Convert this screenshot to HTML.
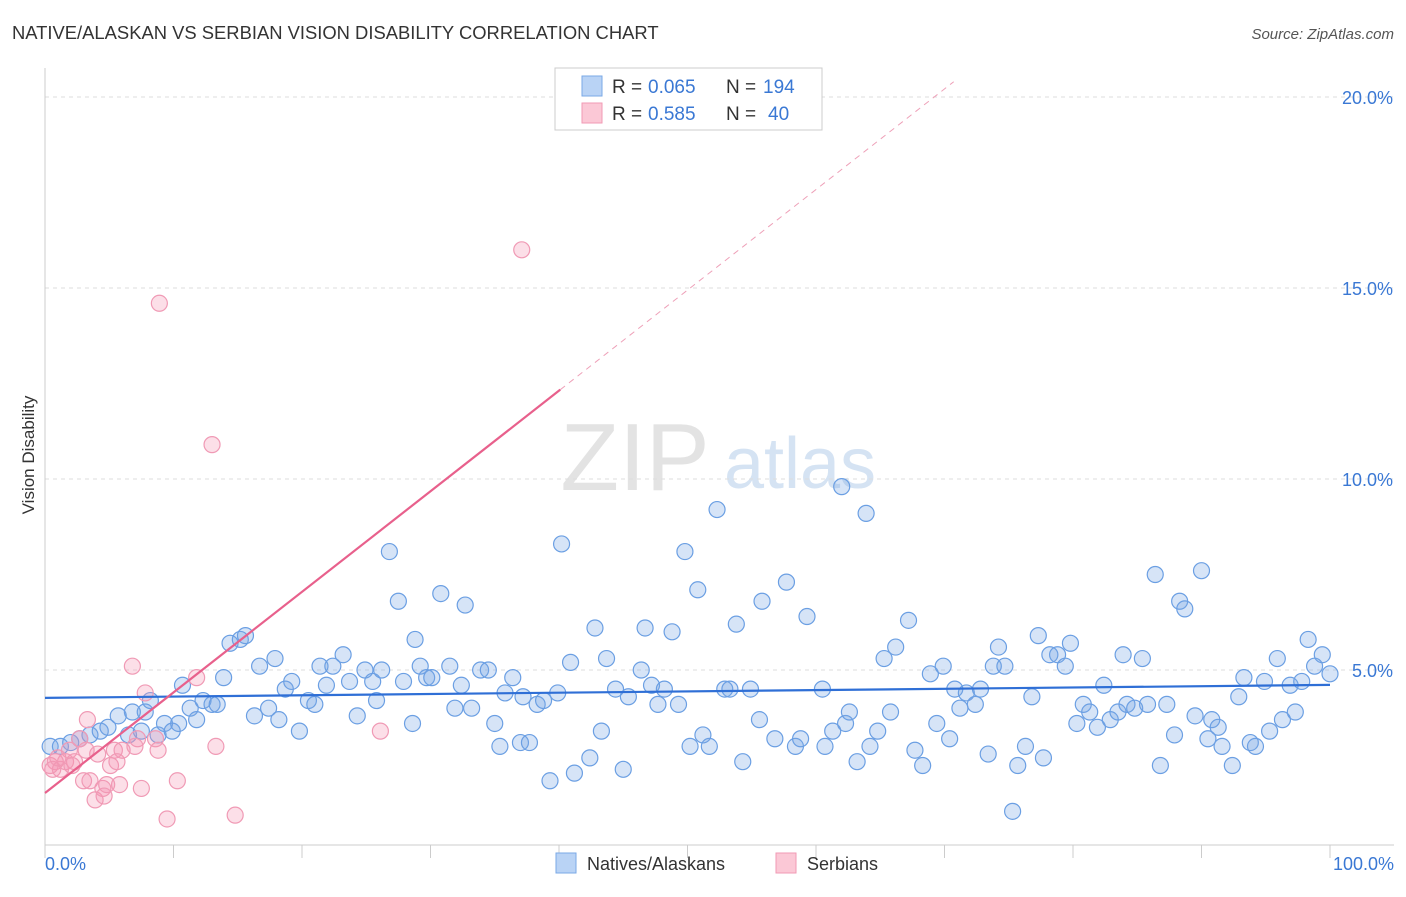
<!DOCTYPE html>
<html><head><meta charset="utf-8"><style>
body{margin:0;background:#fff;font-family:"Liberation Sans",sans-serif;}
svg text{font-family:"Liberation Sans",sans-serif;}
</style></head><body>
<svg id="chart" width="1406" height="892" xmlns="http://www.w3.org/2000/svg">
<text x="12" y="39" font-size="18.4" fill="#333">NATIVE/ALASKAN VS SERBIAN VISION DISABILITY CORRELATION CHART</text>
<text x="1394" y="39" font-size="15" fill="#555" text-anchor="end" font-style="italic">Source: ZipAtlas.com</text>
<text transform="translate(34,455) rotate(-90)" font-size="17" fill="#333" text-anchor="middle">Vision Disability</text>
<g><text x="635" y="490" font-size="96" fill="#e3e3e3" text-anchor="middle" font-family="Liberation Serif">ZIP</text><text x="800" y="488" font-size="72" fill="#d5e3f3" text-anchor="middle">atlas</text></g>
<g id="grid"></g><g id="axes"></g><g id="points"></g><g id="trends"></g>
<g>
<rect x="555" y="68" width="267" height="62" fill="#fff" stroke="#ccc"/>
<rect x="582" y="76" width="20" height="20" fill="#b9d3f5" stroke="#7aa8e6"/>
<rect x="582" y="103" width="20" height="20" fill="#fbc8d6" stroke="#f19ab4"/>
<text x="612" y="93" font-size="19" fill="#333">R =</text>
<text x="648" y="93" font-size="19" fill="#3a78d4">0.065</text>
<text x="726" y="93" font-size="19" fill="#333">N =</text>
<text x="763" y="93" font-size="19" fill="#3a78d4">194</text>
<text x="612" y="120" font-size="19" fill="#333">R =</text>
<text x="648" y="120" font-size="19" fill="#3a78d4">0.585</text>
<text x="726" y="120" font-size="19" fill="#333">N =</text>
<text x="768" y="120" font-size="19" fill="#3a78d4">40</text>
</g>
<g>
<rect x="556" y="853" width="20" height="20" fill="#b9d3f5" stroke="#7aa8e6"/>
<text x="587" y="870" font-size="18" fill="#333">Natives/Alaskans</text>
<rect x="776" y="853" width="20" height="20" fill="#fbc8d6" stroke="#f19ab4"/>
<text x="807" y="870" font-size="18" fill="#333">Serbians</text>
</g>
</svg>
<script>
const yTicks=[5,10,15,20];
const yTickLabels=["5.0%","10.0%","15.0%","20.0%"];
const xTicks=[0,10,20,30,40,50,60,70,80,90,100];
const blueX=[0.4,1.2,2.0,2.7,3.5,4.3,4.9,5.7,6.5,6.8,7.5,7.8,8.2,8.8,9.3,9.9,10.4,10.7,11.3,11.8,12.3,13.0,13.4,13.9,14.4,15.2,15.6,16.3,16.7,17.4,17.9,18.2,18.7,19.2,19.8,20.5,21.0,21.4,21.9,22.4,23.2,23.7,24.3,24.9,25.5,25.8,26.2,26.8,27.5,27.9,28.6,28.8,29.2,29.7,30.1,30.8,31.5,31.9,32.4,32.7,33.2,33.9,34.5,35.0,35.4,35.8,36.4,37.0,37.2,37.7,38.3,38.8,39.3,39.9,40.2,40.9,41.2,42.4,42.8,43.3,43.7,44.4,45.0,45.4,46.4,46.7,47.2,47.7,48.2,48.8,49.3,49.8,50.2,50.8,51.2,51.7,52.3,52.9,53.3,53.8,54.3,54.9,55.6,55.8,56.8,57.7,58.4,58.8,59.3,60.5,60.7,61.3,62.0,62.3,62.6,63.2,63.9,64.2,64.8,65.3,65.8,66.2,67.2,67.7,68.3,68.9,69.4,69.9,70.4,70.8,71.2,71.7,72.4,72.8,73.4,73.8,74.2,74.7,75.3,75.7,76.3,76.8,77.3,77.7,78.2,78.8,79.4,79.8,80.3,80.8,81.3,81.9,82.4,82.9,83.5,83.9,84.2,84.8,85.4,85.8,86.4,86.8,87.3,87.9,88.3,88.7,89.5,90.0,90.5,90.8,91.3,91.6,92.4,92.9,93.3,93.8,94.2,94.9,95.3,95.9,96.3,96.9,97.3,97.8,98.3,98.8,99.4,100];
const blueY=[3.0,3.0,3.1,3.2,3.3,3.4,3.5,3.8,3.3,3.9,3.4,3.9,4.2,3.3,3.6,3.4,3.6,4.6,4.0,3.7,4.2,4.1,4.1,4.8,5.7,5.8,5.9,3.8,5.1,4.0,5.3,3.7,4.5,4.7,3.4,4.2,4.1,5.1,4.6,5.1,5.4,4.7,3.8,5.0,4.7,4.2,5.0,8.1,6.8,4.7,3.6,5.8,5.1,4.8,4.8,7.0,5.1,4.0,4.6,6.7,4.0,5.0,5.0,3.6,3.0,4.4,4.8,3.1,4.3,3.1,4.1,4.2,2.1,4.4,8.3,5.2,2.3,2.7,6.1,3.4,5.3,4.5,2.4,4.3,5.0,6.1,4.6,4.1,4.5,6.0,4.1,8.1,3.0,7.1,3.3,3.0,9.2,4.5,4.5,6.2,2.6,4.5,3.7,6.8,3.2,7.3,3.0,3.2,6.4,4.5,3.0,3.4,9.8,3.6,3.9,2.6,9.1,3.0,3.4,5.3,3.9,5.6,6.3,2.9,2.5,4.9,3.6,5.1,3.2,4.5,4.0,4.4,4.1,4.5,2.8,5.1,5.6,5.1,1.3,2.5,3.0,4.3,5.9,2.7,5.4,5.4,5.1,5.7,3.6,4.1,3.9,3.5,4.6,3.7,3.9,5.4,4.1,4.0,5.3,4.1,7.5,2.5,4.1,3.3,6.8,6.6,3.8,7.6,3.2,3.7,3.5,3.0,2.5,4.3,4.8,3.1,3.0,4.7,3.4,5.3,3.7,4.6,3.9,4.7,5.8,5.1,5.4,4.9];
const pinkX=[0.4,0.8,1.2,1.6,1.9,2.3,2.7,3.0,3.3,3.5,3.9,4.1,4.5,4.8,5.1,5.4,5.8,6.0,6.8,7.2,7.5,7.8,8.6,8.8,8.9,9.5,10.3,11.8,13.0,13.3,14.8,26.1,37.1,0.6,1.0,2.1,3.2,4.6,5.6,7.0];
const pinkY=[2.5,2.6,2.4,2.6,2.9,2.6,3.2,2.1,3.7,2.1,1.6,2.8,1.9,2.0,2.5,2.9,2.0,2.9,5.1,3.2,1.9,4.4,3.2,2.9,14.6,1.1,2.1,4.8,10.9,3.0,1.2,3.4,16.0,2.4,2.7,2.5,2.9,1.7,2.6,3.0];
const blueTrend=[4.27,4.61];
const pinkTrend=[1.78,0.2633];
const X=v=>45+v*12.85, Y=v=>861-v*38.2;
const NS="http://www.w3.org/2000/svg";
function mk(t,a,p){const e=document.createElementNS(NS,t);for(const k in a)e.setAttribute(k,a[k]);p.appendChild(e);return e;}
const grid=document.getElementById('grid'),axes=document.getElementById('axes'),pts=document.getElementById('points'),tr=document.getElementById('trends');
yTicks.forEach((t,i)=>{
 const l=mk('line',{x1:45,x2:1394,y1:Y(t),y2:Y(t),stroke:'#ddd','stroke-dasharray':'4,4'},grid);
 
 
 const tx=mk('text',{x:1393,y:Y(t)+7,'font-size':18,fill:'#3a78d4','text-anchor':'end'},grid);tx.textContent=yTickLabels[i];
 
 
});
const ax=mk('line',{x1:45,x2:1394,y1:845,y2:845,stroke:'#ccc'},axes);


const ay=mk('line',{x1:45,x2:45,y1:68,y2:845,stroke:'#ccc'},axes);


xTicks.forEach(t=>{const l=mk('line',{x1:X(t),x2:X(t),y1:845,y2:858,stroke:'#ccc'},axes);
 
 });
const xl0=mk('text',{x:45,y:870,'font-size':18,fill:'#3a78d4'},axes);xl0.textContent='0.0%';


const xl1=mk('text',{x:1394,y:870,'font-size':18,fill:'#3a78d4','text-anchor':'end'},axes);xl1.textContent='100.0%';


blueX.forEach((x,i)=>{const c=mk('circle',{cx:X(x),cy:Y(blueY[i]),r:8,fill:'rgba(120,165,230,0.3)',stroke:'#6b9fe3','stroke-width':1.2},pts);
 
 });
pinkX.forEach((x,i)=>{const c=mk('circle',{cx:X(x),cy:Y(pinkY[i]),r:8,fill:'rgba(245,150,180,0.3)',stroke:'#f09ab5','stroke-width':1.2},pts);
 
 });
const bt=mk('line',{x1:X(0),y1:Y(blueTrend[0]),x2:X(100),y2:Y(blueTrend[1]),stroke:'#2f6fd6','stroke-width':2.2},tr);


const pe=40.1, pd=(20.4-pinkTrend[0])/pinkTrend[1];
const pt=mk('line',{x1:X(0),y1:Y(pinkTrend[0]),x2:X(pe),y2:Y(pinkTrend[0]+pinkTrend[1]*pe),stroke:'#e8608c','stroke-width':2.2},tr);


const pdl=mk('line',{x1:X(pe),y1:Y(pinkTrend[0]+pinkTrend[1]*pe),x2:X(pd),y2:Y(pinkTrend[0]+pinkTrend[1]*pd),stroke:'#eea0b8','stroke-width':1,'stroke-dasharray':'6,5'},tr);


</script>
</body></html>
